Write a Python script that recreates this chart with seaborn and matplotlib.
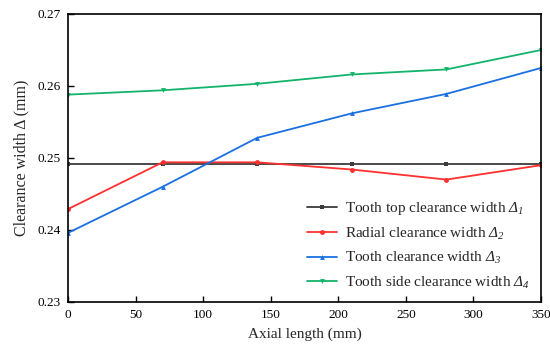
import numpy as np
import pandas as pd
import matplotlib
matplotlib.use("Agg")
import matplotlib.pyplot as plt
import seaborn as sns

x = [0, 70, 140, 210, 280, 350]
delta1 = [0.2491, 0.2491, 0.2491, 0.2491, 0.2491, 0.2491]
delta2 = [0.2429, 0.2494, 0.2494, 0.2484, 0.2470, 0.2490]
delta3 = [0.2396, 0.2460, 0.2528, 0.2562, 0.2589, 0.2625]
delta4 = [0.2588, 0.2594, 0.2603, 0.2616, 0.2623, 0.2650]

labels = [r"Tooth top clearance width $\mathsf{Δ}_{\mathsf{1}}$",
          r"Radial clearance width $\mathsf{Δ}_{\mathsf{2}}$",
          r"Tooth clearance width $\mathsf{Δ}_{\mathsf{3}}$",
          r"Tooth side clearance width $\mathsf{Δ}_{\mathsf{4}}$"]
colors = ["#3c3c3c", "#ff3030", "#1a70e0", "#12b36a"]
markers = ["s", "o", "^", "v"]

sns.set_theme(style="ticks")
plt.rcParams["font.family"] = ["Liberation Serif", "DejaVu Serif"]
plt.rcParams["mathtext.fontset"] = "custom"
plt.rcParams["mathtext.it"] = "Liberation Serif:italic"
plt.rcParams["mathtext.sf"] = "Liberation Serif:italic"
plt.rcParams["mathtext.rm"] = "Liberation Serif"

rows = []
for lab, ys in zip(labels, [delta1, delta2, delta3, delta4]):
    for xi, yi in zip(x, ys):
        rows.append({"x": xi, "y": yi, "series": lab})
df = pd.DataFrame(rows)

fig = plt.figure(figsize=(5.5, 3.54), dpi=100)
ax = fig.add_axes([0.1236, 0.1469, 0.86, 0.8136])
sns.lineplot(data=df, x="x", y="y", hue="series", style="series",
             palette=colors, markers=markers, dashes=False,
             markersize=3.5, markeredgewidth=0, linewidth=1.3, ax=ax)

ax.set_xlim(0, 350)
ax.set_ylim(0.23, 0.27)
ax.set_xticks([0, 50, 100, 150, 200, 250, 300, 350])
ax.set_yticks([0.23, 0.24, 0.25, 0.26, 0.27])
ax.set_yticklabels(["0.23", "0.24", "0.25", "0.26", "0.27"])
ax.tick_params(direction="in", length=4, width=1, labelsize=9.5, colors="black", pad=5)
for s in ax.spines.values():
    s.set_linewidth(1.2)
    s.set_color("black")
ax.set_xlabel("Axial length (mm)", fontsize=11, labelpad=5)
ax.set_ylabel("Clearance width Δ (mm)", fontsize=11.5, labelpad=6)

ax.legend(loc="lower right", frameon=False, fontsize=11, handlelength=2.0,
          handletextpad=0.5, bbox_to_anchor=(1.0, 0.0),
          borderaxespad=0.35, labelspacing=0.55)

fig.savefig("out.png", dpi=100)
